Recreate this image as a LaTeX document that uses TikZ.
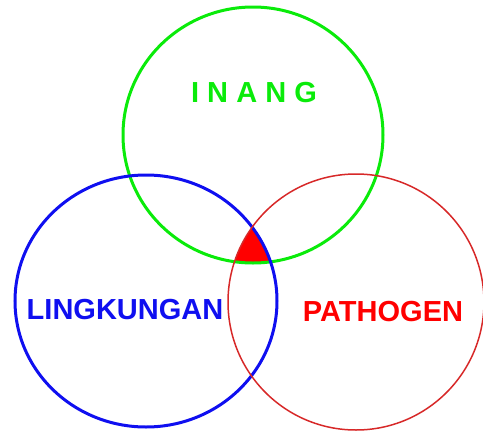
\documentclass[tikz,border=0pt]{standalone}
\usepackage{fontspec}
\setmainfont{Liberation Sans}
\begin{document}
\begin{tikzpicture}[x=1pt,y=-1pt,
  ring/.style={line width=3pt},
  label/.style={font=\fontsize{29}{34}\selectfont\bfseries, inner sep=0pt, anchor=center}]
\definecolor{hostgreen}{RGB}{10,235,10}
\definecolor{envblue}{RGB}{15,15,240}
\definecolor{pathred}{RGB}{215,40,40}
\useasboundingbox (0,0) rectangle (483,432);
% shared region of the three circles
\begin{scope}
  \clip (253,135) ellipse [x radius=130, y radius=128];
  \clip (146,301) ellipse [x radius=131, y radius=126];
  \fill[red] (356,302) ellipse [x radius=128, y radius=128];
\end{scope}
% the three circles
\draw[ring, hostgreen] (253,135) ellipse [x radius=130, y radius=128];
\draw[ring, envblue] (146,301) ellipse [x radius=131, y radius=126];
\draw[line width=1.5pt, pathred] (356,302) ellipse [x radius=128, y radius=128];
% labels
\node[label, text=hostgreen] (inang) at (254,93) {\addfontfeatures{LetterSpace=28}INANG};
\node[label, text=envblue] (lingkungan) at (125,310) {LINGKUNGAN};
\node[label, text=red] (pathogen) at (383,312) {PATHOGEN};
\end{tikzpicture}
\end{document}
